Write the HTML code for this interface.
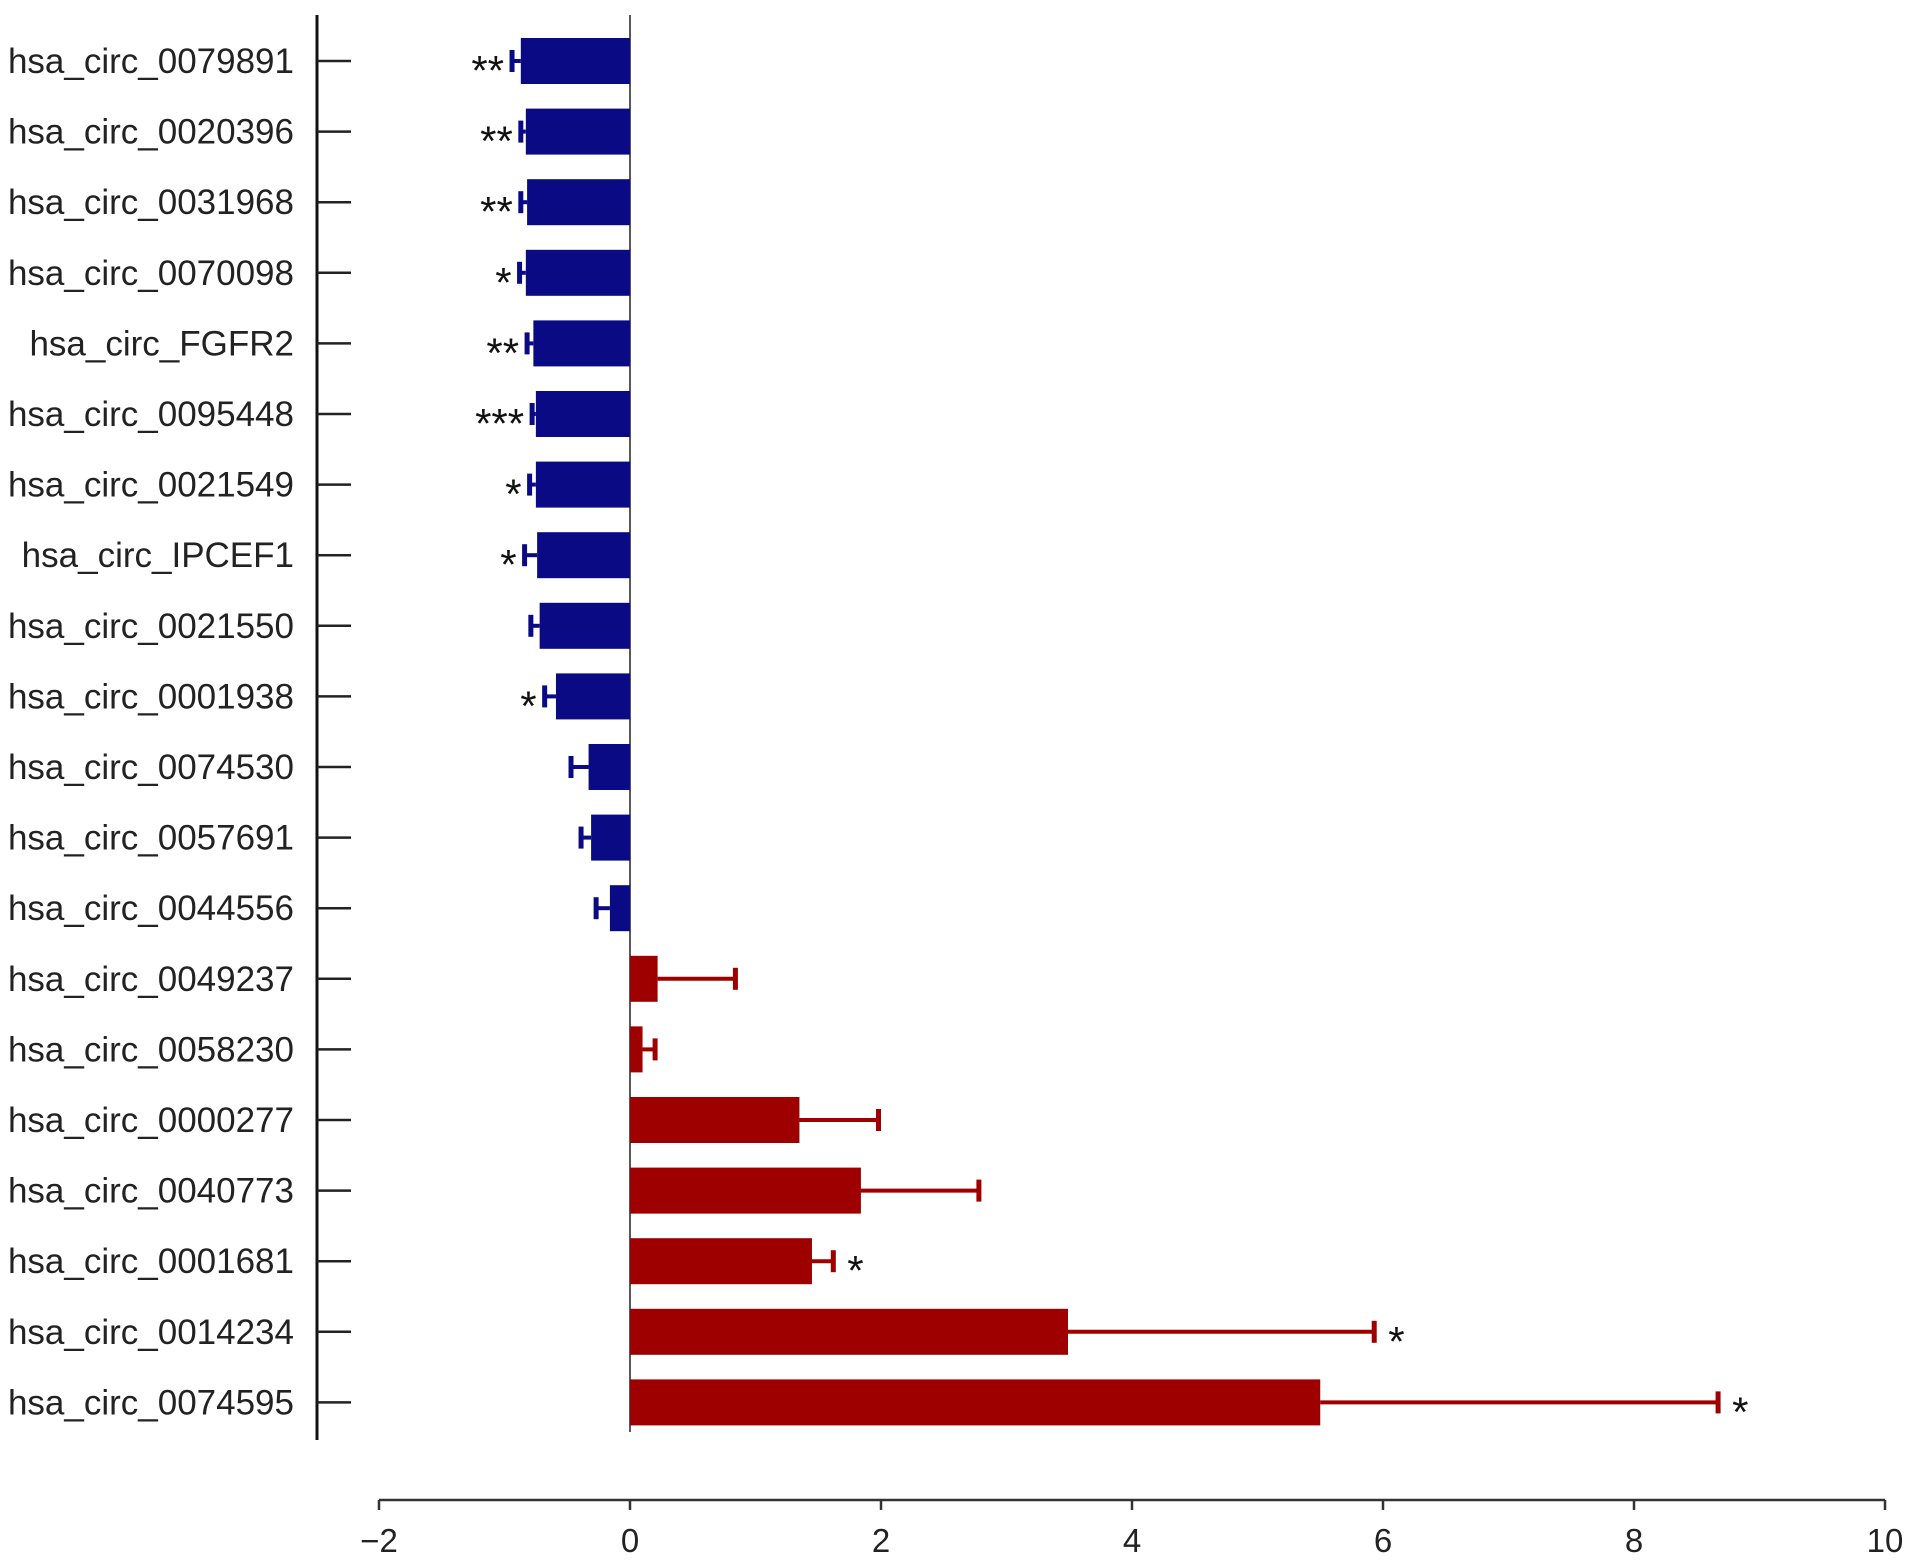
<!DOCTYPE html>
<html><head><meta charset="utf-8">
<style>html,body{margin:0;padding:0;background:#fff;}svg{display:block;}</style>
</head><body>
<svg id="chart" width="1913" height="1563" viewBox="0 0 1913 1563" xmlns="http://www.w3.org/2000/svg" font-family="'Liberation Sans', Arial, sans-serif"></svg>
<script>
const categories = ["hsa_circ_0079891","hsa_circ_0020396","hsa_circ_0031968","hsa_circ_0070098","hsa_circ_FGFR2","hsa_circ_0095448","hsa_circ_0021549","hsa_circ_IPCEF1","hsa_circ_0021550","hsa_circ_0001938","hsa_circ_0074530","hsa_circ_0057691","hsa_circ_0044556","hsa_circ_0049237","hsa_circ_0058230","hsa_circ_0000277","hsa_circ_0040773","hsa_circ_0001681","hsa_circ_0014234","hsa_circ_0074595"];
const values = [-0.87,-0.83,-0.82,-0.83,-0.77,-0.75,-0.75,-0.74,-0.72,-0.59,-0.33,-0.31,-0.16,0.22,0.10,1.35,1.84,1.45,3.49,5.50];
const errors = [0.07,0.04,0.05,0.05,0.05,0.03,0.05,0.10,0.07,0.09,0.14,0.08,0.11,0.62,0.10,0.63,0.94,0.17,2.44,3.17];
const stars = ["**","**","**","*","**","***","*","*","","*","","","","","","","","*","*","*"];
const xTicks = [-2,0,2,4,6,8,10];
const xTickLabels = ["\u22122","0","2","4","6","8","10"];

const svg = document.getElementById('chart');
const NS = 'http://www.w3.org/2000/svg';
const x0 = 630, unit = 125.5;
const xs = v => x0 + v*unit;
const yTop = 61, step = 70.6;
const ys = i => yTop + i*step;
const barH = 46;
function mk(tag, attrs, parent){ const e=document.createElementNS(NS,tag); for(const k in attrs) e.setAttribute(k,attrs[k]); (parent||svg).appendChild(e); return e; }

let yAxis = mk('line',{x1:317,y1:15,x2:317,y2:1440,stroke:'#111','stroke-width':3});


let zl = mk('line',{x1:x0,y1:15,x2:x0,y2:1432,stroke:'#222','stroke-width':1.5});



categories.forEach((c,i)=>{
  const y = ys(i);
  const tk = mk('line',{x1:317,y1:y,x2:351,y2:y,stroke:'#222','stroke-width':2.5});
  
  
  const t = mk('text',{x:294,y:y+12,'text-anchor':'end','font-size':35,fill:'#222'});
  t.textContent = c;
  
  
  const v = values[i], col = v<0 ? '#0a0a85' : '#9e0000';
  const b = mk('rect',{x:Math.min(xs(0),xs(v)),y:y-barH/2,width:Math.abs(xs(v)-xs(0)),height:barH,fill:col});
  
  
  const sgn = v<0?-1:1;
  const xe = xs(v + sgn*errors[i]);
  const e1 = mk('line',{x1:xs(v),y1:y,x2:xe,y2:y,stroke:col,'stroke-width':4});
  
  
  const e2 = mk('line',{x1:xe,y1:y-11,x2:xe,y2:y+11,stroke:col,'stroke-width':5});
  
  
  if(stars[i]){
    const sx = v<0 ? xe-8 : xe+14;
    const s = mk('text',{x:sx,y:y+24,'text-anchor':v<0?'end':'start','font-size':42,fill:'#111'});
    s.textContent = stars[i];
    
    
  }
});

let xa = mk('line',{x1:xs(-2),y1:1500,x2:xs(10),y2:1500,stroke:'#333','stroke-width':2.5});


xTicks.forEach((v,i)=>{
  const t = mk('line',{x1:xs(v),y1:1500,x2:xs(v),y2:1510,stroke:'#333','stroke-width':2.5});
  
  
  const l = mk('text',{x:xs(v),y:1552,'text-anchor':'middle','font-size':33,fill:'#222'});
  l.textContent = xTickLabels[i];
  
  
});
</script>
</body></html>
